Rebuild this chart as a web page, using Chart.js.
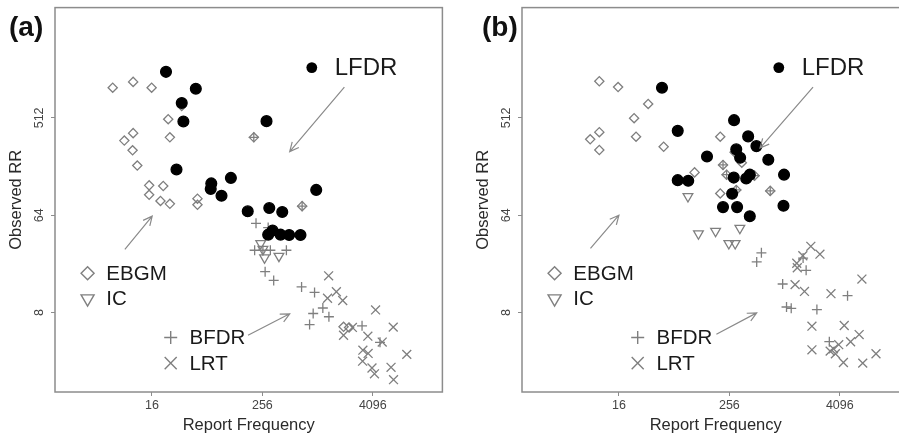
<!DOCTYPE html>
<html lang="en">
<head>
<meta charset="UTF-8">
<title>Observed RR vs Report Frequency</title>
<script src="https://cdn.jsdelivr.net/npm/chart.js"></script>
<style>
  html, body {
    margin: 0;
    width: 899px;
    height: 438px;
    overflow: hidden;
    background: #fff;
    font-family: "Liberation Sans", Arial, sans-serif;
  }
  .panel { position: absolute; top: 0; width: 450px; height: 438px; }
  .tag {
    position: absolute;
    top: 10px;
    font-size: 28px;
    font-weight: bold;
    line-height: 34px;
    color: #111;
  }
</style>
</head>
<body>

<div class="panel" style="left:0"><canvas id="chartA" width="450" height="438"></canvas></div>
<div class="panel" style="left:467px"><canvas id="chartB" width="450" height="438"></canvas></div>
<div class="tag" style="left:9px">(a)</div>
<div class="tag" style="left:482px">(b)</div>

<script>
// all points are [log2(report frequency), log2(observed RR)]
const xTicks = [16, 256, 4096];
const yTicks = [8, 64, 512];
const methods = ['LFDR', 'EBGM', 'IC', 'BFDR', 'LRT'];

// ---- panel (a)
const lfdrA = [[4.51,10.42],[5.59,9.90],[5.08,9.46],[5.14,8.89],[4.89,7.41],[6.15,6.98],[6.13,6.81],
  [6.52,6.60],[6.86,7.15],[8.15,8.90],[9.95,6.78],[7.47,6.12],[8.25,6.22],[8.72,6.10],[8.21,5.40],
  [8.37,5.53],[8.66,5.40],[8.97,5.39],[9.38,5.39]];
const ebgmA = [[2.58,9.93],[3.32,10.11],[3.99,9.93],[4.59,8.96],[3.32,8.53],[3.00,8.30],[4.65,8.40],
  [3.30,8.00],[3.47,7.53],[3.90,6.92],[4.41,6.90],[3.90,6.63],[4.31,6.44],[4.65,6.35],[5.65,6.51],
  [5.65,6.32],[5.08,9.37],[7.69,8.40],[9.44,6.28],[10.94,2.56],[11.14,2.54]];
const icA = [[7.94,5.13],[8.02,4.95],[8.08,4.69],[8.60,4.74]];
const bfdrA = [[7.77,5.75],[8.21,5.62],[7.72,4.92],[8.02,4.92],[8.29,4.92],[8.87,4.92],[8.10,4.26],
  [8.41,3.99],[9.42,3.79],[9.89,3.62],[10.19,3.14],[9.84,2.97],[10.41,2.87],[9.71,2.63],[11.61,2.59],
  [12.26,2.08],[7.69,8.40],[9.44,6.28]];
const lrtA = [[10.40,4.13],[10.68,3.64],[10.36,3.44],[10.91,3.37],[12.10,3.08],[10.94,2.30],[11.26,2.54],
  [11.82,2.27],[12.74,2.55],[12.34,2.09],[11.64,1.84],[11.83,1.74],[11.63,1.50],[11.97,1.29],
  [12.06,1.11],[12.66,1.31],[12.75,0.93],[13.23,1.71]];

// ---- panel (b)
const lfdrB = [[5.56,9.93],[8.17,8.93],[6.13,8.60],[8.68,8.43],[8.98,8.13],[8.25,8.03],[7.19,7.81],
  [8.39,7.77],[9.41,7.71],[9.98,7.25],[6.13,7.08],[6.51,7.06],[8.16,7.16],[8.61,7.13],[8.74,7.25],
  [8.10,6.66],[7.77,6.25],[8.28,6.25],[9.96,6.29],[8.74,5.97]];
const ebgmB = [[3.29,10.13],[3.97,9.95],[5.06,9.43],[4.55,8.99],[3.29,8.56],[2.96,8.34],[3.29,8.01],
  [4.62,8.42],[5.62,8.11],[7.67,8.42],[6.74,7.32],[7.67,6.67],[7.77,7.55],[7.90,7.25],[8.25,6.78],
  [9.48,6.75],[8.91,7.22],[8.19,7.94],[8.45,7.62]];
const icB = [[6.50,6.58],[6.88,5.43],[7.50,5.51],[8.38,5.60],[7.98,5.13],[8.21,5.13]];
const bfdrB = [[9.16,4.84],[8.99,4.56],[9.93,3.88],[10.07,3.17],[10.24,3.13],[10.78,4.30],[10.67,4.68],
  [11.17,3.09],[12.28,3.52],[11.62,2.10],[7.77,7.55],[7.90,7.25],[8.25,6.78],[9.48,6.75],[8.91,7.22]];
const lrtB = [[10.95,5.04],[11.28,4.80],[10.66,4.75],[10.44,4.52],[10.46,4.38],[10.38,3.86],[10.72,3.65],
  [11.68,3.58],[12.80,4.03],[10.99,2.58],[12.16,2.60],[12.70,2.32],[12.39,2.10],[11.96,2.01],
  [11.77,1.88],[11.65,1.81],[11.84,1.73],[10.99,1.85],[12.13,1.46],[12.83,1.44],[13.31,1.73]];

// legend + arrow anchors, in the same log2 units
const legendSpots = { LFDR: [9.79, 10.55], EBGM: [1.67, 4.21], IC: [1.67, 3.43], BFDR: [4.68, 2.23], LRT: [4.68, 1.44] };
const arrowsA = [[[10.97,9.95],[8.99,7.96]], [[3.02,4.95],[4.01,5.97]], [[7.48,2.30],[8.99,2.96]]];
const arrowsB = [[[11.03,9.95],[9.11,8.07]], [[2.97,4.98],[4.00,6.00]], [[7.53,2.33],[8.99,2.99]]];

const GRAY = '#7f7f7f';
const FONT = '"Liberation Sans", Arial, sans-serif';
const styles = {
  LFDR: { pointStyle: 'circle', radius: 5.4, bg: '#000', border: '#000', legendR: 5.4 },
  EBGM: { pointStyle: 'rectRot', radius: 4.6, bg: 'rgba(0,0,0,0)', border: GRAY, legendR: 6.5 },
  IC:   { pointStyle: 'triangle', rotation: 180, radius: 5.6, bg: 'rgba(0,0,0,0)', border: GRAY, legendR: 7.5 },
  BFDR: { pointStyle: 'cross', radius: 5, bg: 'rgba(0,0,0,0)', border: GRAY, legendR: 6.5 },
  LRT:  { pointStyle: 'crossRot', radius: 6.3, bg: 'rgba(0,0,0,0)', border: GRAY, legendR: 8.5 }
};

function marker(ctx, name, x, y, r) {
  const s = styles[name];
  ctx.beginPath();
  if (name === 'LFDR') {
    ctx.arc(x, y, r, 0, Math.PI * 2);
    ctx.fillStyle = '#000'; ctx.fill();
    return;
  }
  if (name === 'EBGM') {
    ctx.moveTo(x - r, y); ctx.lineTo(x, y - r); ctx.lineTo(x + r, y); ctx.lineTo(x, y + r); ctx.closePath();
  } else if (name === 'IC') {
    const h = r * Math.sin(Math.PI / 3);
    ctx.moveTo(x - h, y - r / 2); ctx.lineTo(x + h, y - r / 2); ctx.lineTo(x, y + r); ctx.closePath();
  } else if (name === 'BFDR') {
    ctx.moveTo(x - r, y); ctx.lineTo(x + r, y); ctx.moveTo(x, y - r); ctx.lineTo(x, y + r);
  } else {
    const d = r * Math.SQRT1_2;
    ctx.moveTo(x - d, y - d); ctx.lineTo(x + d, y + d); ctx.moveTo(x - d, y + d); ctx.lineTo(x + d, y - d);
  }
  ctx.strokeStyle = s.border; ctx.lineWidth = 1.4; ctx.stroke();
}

function arrow(ctx, x0, y0, x1, y1) {
  const ang = Math.atan2(y1 - y0, x1 - x0), len = 10, spread = 0.45;
  ctx.beginPath();
  ctx.moveTo(x0, y0); ctx.lineTo(x1, y1);
  ctx.moveTo(x1 - len * Math.cos(ang - spread), y1 - len * Math.sin(ang - spread));
  ctx.lineTo(x1, y1);
  ctx.lineTo(x1 - len * Math.cos(ang + spread), y1 - len * Math.sin(ang + spread));
  ctx.stroke();
}

const decor = {
  id: 'decor',
  afterDraw(chart) {
    const { ctx, chartArea: a, scales: { x, y } } = chart;
    const px = v => x.getPixelForValue(v), py = v => y.getPixelForValue(v);
    ctx.save();
    // box round the plot
    ctx.strokeStyle = '#8c8c8c'; ctx.lineWidth = 1.5;
    ctx.strokeRect(a.left, a.top, a.right - a.left, a.bottom - a.top);

    // y tick labels, turned like in R
    ctx.fillStyle = '#444'; ctx.font = '12.5px ' + FONT;
    ctx.textAlign = 'center'; ctx.textBaseline = 'middle';
    yTicks.forEach(v => {
      ctx.save();
      ctx.translate(a.left - 15, py(Math.log2(v)));
      ctx.rotate(-Math.PI / 2);
      ctx.fillText(String(v), 0, 0);
      ctx.restore();
    });

    // arrows
    ctx.strokeStyle = '#8a8a8a'; ctx.lineWidth = 1.2;
    chart.options.plugins.decor.arrows.forEach(([p, q]) => arrow(ctx, px(p[0]), py(p[1]), px(q[0]), py(q[1])));

    // legend pieces
    ctx.textAlign = 'left'; ctx.fillStyle = '#1a1a1a';
    methods.forEach(m => {
      const [lx, ly] = legendSpots[m];
      marker(ctx, m, px(lx), py(ly), styles[m].legendR);
      ctx.fillStyle = '#1a1a1a';
      ctx.font = (m === 'LFDR' ? '24px ' : '20.5px ') + FONT;
      const gap = m === 'LFDR' ? 0.83 : 0.68;
      ctx.fillText(m, px(lx + gap), py(ly) + 1);
    });
    ctx.restore();
  }
};

function makeChart(id, series, arrows) {
  const datasets = methods.map((m, i) => ({
    label: m,
    data: series[i].map(([fx, ry]) => ({ x: fx, y: ry })),
    pointStyle: styles[m].pointStyle,
    rotation: styles[m].rotation || 0,
    pointRadius: styles[m].radius,
    backgroundColor: styles[m].bg,
    borderColor: styles[m].border,
    borderWidth: 1.3,
    showLine: false
  }));

  new Chart(document.getElementById(id), {
    type: 'scatter',
    data: { datasets },
    options: {
      responsive: false,
      animation: false,
      layout: { padding: { top: 5, right: 7, left: 0, bottom: 0 } },
      plugins: { legend: { display: false }, tooltip: { enabled: false }, decor: { arrows } },
      scales: {
        x: {
          type: 'linear', min: 0.49, max: 14.52,
          afterBuildTicks: s => { s.ticks = xTicks.map(v => ({ value: Math.log2(v) })); },
          afterFit: s => { s.height = 46; },
          grid: { display: true, drawOnChartArea: false, tickLength: 4, color: '#8c8c8c' },
          border: { display: false },
          ticks: { callback: v => String(Math.round(Math.pow(2, v))), color: '#444', padding: 2,
                   maxRotation: 0, font: { size: 12.5, family: FONT } },
          title: { display: true, text: 'Report Frequency', color: '#2a2a2a',
                   font: { size: 16.5, family: FONT }, padding: { top: 0, bottom: 3 } }
        },
        y: {
          type: 'linear', min: 0.55, max: 12.40,
          afterBuildTicks: s => { s.ticks = yTicks.map(v => ({ value: Math.log2(v) })); },
          afterFit: s => { s.width = 55; },
          grid: { display: true, drawOnChartArea: false, tickLength: 4, color: '#8c8c8c' },
          border: { display: false },
          ticks: { display: false },
          title: { display: true, text: 'Observed RR', color: '#2a2a2a',
                   font: { size: 16.5, family: FONT }, padding: { top: 7, bottom: 0 } }
        }
      }
    },
    plugins: [decor]
  });
}

makeChart('chartA', [lfdrA, ebgmA, icA, bfdrA, lrtA], arrowsA);
makeChart('chartB', [lfdrB, ebgmB, icB, bfdrB, lrtB], arrowsB);
</script>
</body>
</html>
